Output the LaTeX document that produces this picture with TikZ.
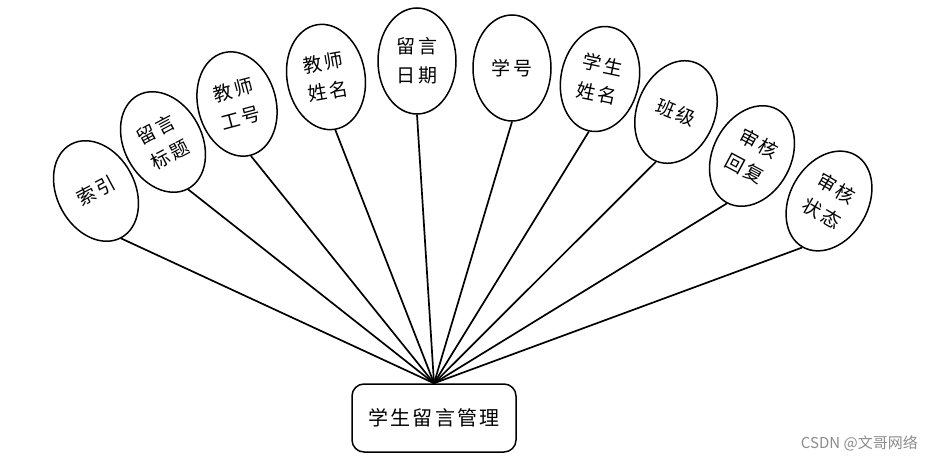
\documentclass[tikz,border=0pt]{standalone}
\usepackage{fontspec}
\usetikzlibrary{shapes.geometric}
\newfontfamily\cjk[LetterSpace=12]{Noto Sans CJK SC}
\newfontfamily\wmfont{Noto Sans CJK SC}
\begin{document}
\begin{tikzpicture}[x=1pt,y=-1pt,
  attr/.style={ellipse,draw,line width=1.5pt,minimum width=78pt,minimum height=106pt,
    inner sep=0pt,align=center,font=\cjk\fontsize{19}{29}\selectfont},
  mainbox/.style={draw,line width=1.5pt,rounded corners=12pt,minimum width=164pt,
    minimum height=68pt,inner sep=0pt,font=\cjk\fontsize{20}{24}\selectfont},
  link/.style={line width=1.7pt}]
\useasboundingbox (0,0) rectangle (934,460);
\fill[white] (0,0) rectangle (934,460);
\node[mainbox] (m) at (434,418) {学生留言管理};
\node[attr,rotate=28]  (e1)  at (96,191)  {索引};
\node[attr,rotate=28]  (e2)  at (163,142) {留言\\标题};
\node[attr,rotate=15]  (e3)  at (237,104) {教师\\工号};
\node[attr,rotate=10]  (e4)  at (326,77)  {教师\\姓名};
\node[attr,rotate=0]   (e5)  at (417,61)  {留言\\日期};
\node[attr,rotate=0]   (e6)  at (512,68)  {学号};
\node[attr,rotate=-12] (e7)  at (600,79)  {学生\\姓名};
\node[attr,rotate=-22] (e8)  at (676,112) {班级};
\node[attr,rotate=-28] (e9)  at (752,156) {审核\\回复};
\node[attr,rotate=-30] (e10) at (829,201) {审核\\状态};
\foreach \i in {1,...,10} {\draw[link] (e\i.south) -- (m.north);}
\node[anchor=base east,text=black!45,font=\wmfont\fontsize{15}{17}\selectfont,inner sep=0pt] (wm) at (918,448) {CSDN @文哥网络};
\end{tikzpicture}
\end{document}
